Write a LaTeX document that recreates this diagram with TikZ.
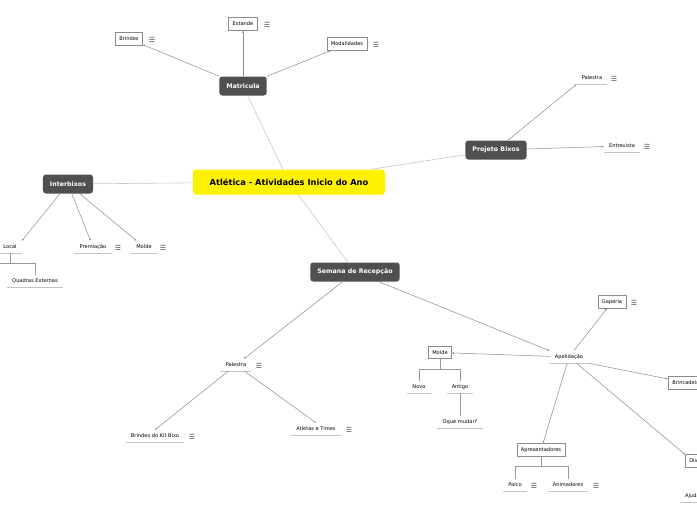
\documentclass[tikz,border=0pt]{standalone}
\usepackage{fontspec}
\setmainfont{DejaVu Sans}
\newfontfamily\symfont{DejaVu Sans}
\usepackage{tikz}
\usetikzlibrary{arrows.meta,positioning}
\definecolor{topicGrey}{HTML}{4F4F4F}
\definecolor{lineGrey}{HTML}{8C8C8C}
\definecolor{rootLine}{HTML}{C8C8C8}
\definecolor{ulGrey}{HTML}{C4C4C4}

\begin{document}
\begin{tikzpicture}[
  x=1pt, y=-1pt,
  root/.style={fill=yellow, rounded corners=3pt, font=\bfseries\fontsize{8.3}{9}\selectfont, minimum width=192pt, minimum height=25pt, inner sep=0pt},
  topic/.style={fill=topicGrey, text=white, rounded corners=3pt, font=\bfseries\fontsize{6.3}{7}\selectfont, minimum height=19pt, inner xsep=7pt, inner ysep=0pt},
  boxed/.style={draw=black!45, fill=white, font=\fontsize{5.1}{5.5}\selectfont, minimum height=12.5pt, inner xsep=4pt, inner ysep=0pt, line width=0.6pt},
  plain/.style={font=\fontsize{5.1}{5.5}\selectfont, minimum height=12pt, inner xsep=5pt, inner ysep=0pt,
    append after command={(\tikzlastnode.south west) edge[draw=ulGrey, line width=1.1pt] (\tikzlastnode.south east)}},
  menu/.style={font=\symfont\fontsize{7}{7}\selectfont, text=black!70, inner sep=0pt},
  rootlink/.style={draw=rootLine, line width=0.6pt},
  link/.style={draw=lineGrey, line width=0.5pt, -{Latex[length=2pt,width=2pt]}},
  tree/.style={draw=black!40, line width=1pt},
]
\useasboundingbox (0,0) rectangle (697,520);
\clip (0,0) rectangle (697,520);

% central node and main topics
\node[root] (root) at (289,182) {Atlética - Atividades Inicio do Ano};
\node[topic] (matricula) at (243,86) {Matricula};
\node[topic] (projeto) at (496,150) {Projeto Bixos};
\node[topic] (interbixos) at (68,184) {Interbixos};
\node[topic] (semana) at (355,272) {Semana de Recepção};

% Matricula
\node[boxed] (brindes) at (129,39) {Brindes};
\node[boxed] (estande) at (243,24) {Estande};
\node[boxed] (modalidades) at (347,44) {Modalidades};
\node[menu] (brindesmenu) at (152,39.5) {☰};
\node[menu] (estandemenu) at (267,24.5) {☰};
\node[menu] (modalidadesmenu) at (376,44.5) {☰};

% Projeto Bixos
\node[plain] (palestrapb) at (592,78) {Palestra};
\node[plain] (entrevista) at (622,146) {Entrevista};
\node[menu] (palestrapbmenu) at (614,78.5) {☰};
\node[menu] (entrevistamenu) at (647,146.5) {☰};

% Interbixos
\node[plain] (local) at (10,247) {Local};
\node[plain] (quadras) at (35,281) {Quadras Externas};
\node[plain] (premiacao) at (93,247) {Premiação};
\node[plain] (moldeib) at (144,247) {Molde};
\node[menu] (premiacaomenu) at (118,247.5) {☰};
\node[menu] (moldeibmenu) at (163,247.5) {☰};

% Semana de Recepcao
\node[plain] (palestra) at (236,365) {Palestra};
\node[plain] (kitbixo) at (155,436) {Brindes do Kit Bixo};
\node[plain] (atletas) at (316,429) {Atletas e Times};
\node[menu] (palestramenu) at (259,365.5) {☰};
\node[menu] (kitbixomenu) at (192,436.5) {☰};
\node[menu] (atletasmenu) at (349,429.5) {☰};

\node[plain] (apelidacao) at (569,357) {Apelidação};
\node[boxed] (gaperia) at (612,302) {Gaperia};
\node[menu] (gaperiamenu) at (634,302.5) {☰};
\node[boxed] (molde) at (440,352.5) {Molde};
\node[plain] (novo) at (419,387) {Novo};
\node[plain] (antigo) at (460,387) {Antigo};
\node[plain] (oquemudar) at (460,422) {Oque mudar?};
\node[boxed, anchor=west] (brincadeiras) at (668,383) {Brincadeiras};
\node[boxed] (apresentadores) at (541,450) {Apresentadores};
\node[plain] (palco) at (515,485) {Palco};
\node[plain] (animadores) at (568,485) {Animadores};
\node[menu] (palcomenu) at (534,485.5) {☰};
\node[menu] (animadoresmenu) at (596,485.5) {☰};
\node[boxed, anchor=west] (divulgacao) at (685,461) {Divulgação};
\node[plain, anchor=west] (ajuda) at (680,496) {Ajudantes};

% links from the centre
\draw[rootlink] (root) -- (matricula);
\draw[rootlink] (root) -- (projeto);
\draw[rootlink] (root) -- (interbixos);
\draw[rootlink] (root) -- (semana);

% links to subtopics
\draw[link] (matricula) -- (brindes);
\draw[link] (matricula) -- (estande);
\draw[link] (matricula) -- (modalidades);
\draw[link] (projeto) -- (palestrapb.south west);
\draw[link] (projeto) -- (entrevista);
\draw[link] (interbixos) -- (local.north east);
\draw[link] (interbixos) -- (premiacao);
\draw[link] (interbixos) -- (moldeib);
\draw[link] (semana) -- (palestra);
\draw[link] (semana) -- (apelidacao.north west);
\draw[link] (palestra) -- (kitbixo.north);
\draw[link] (palestra) -- (atletas.north);
\draw[link] (apelidacao) -- (gaperia);
\draw[link] (apelidacao) -- (molde);
\draw[link] (apelidacao.south east) -- (brincadeiras);
\draw[link] (apelidacao) -- (apresentadores);
\draw[link] (apelidacao) -- (divulgacao.north west);

% tree brackets
\coordinate (localfork) at ([yshift=-10pt]local.south);
\coordinate (localout) at ([xshift=-20pt]localfork);
\draw[tree] (local.south) -- (localfork);
\draw[tree] (localout) -- (localfork) -| (quadras.north);

\coordinate (moldefork) at ([yshift=-10pt]molde.south);
\draw[tree] (molde.south) -- (moldefork);
\draw[tree] (moldefork) -| (novo.north);
\draw[tree] (moldefork) -| (antigo.north);
\draw[tree] (antigo.south) -- (oquemudar.north);

\coordinate (apresfork) at ([yshift=-10pt]apresentadores.south);
\draw[tree] (apresentadores.south) -- (apresfork);
\draw[tree] (apresfork) -| (palco.north);
\draw[tree] (apresfork) -| (animadores.north);
\end{tikzpicture}
\end{document}
